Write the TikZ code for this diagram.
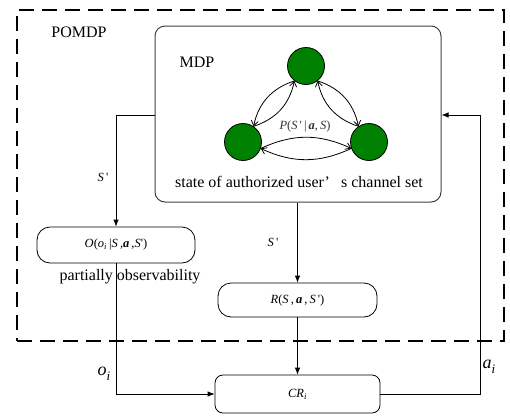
\documentclass[tikz,border=0pt]{standalone}
\usepackage{fontspec}
\setmainfont{Liberation Serif}
\usetikzlibrary{arrows.meta}
\definecolor{mdpgreen}{RGB}{0,128,0}
\newcommand{\prm}{\,\textquotesingle}

\begin{document}
\begin{tikzpicture}
            [every node/.style={inner sep=0pt},
             state/.style={circle, minimum size=37pt, fill=mdpgreen, line width=0.8pt, draw=black},
             block/.style={rectangle, rounded corners=13pt, line width=0.8pt, draw=black},
             flow/.style={line width=0.8pt, -{Latex[length=7pt,width=5.5pt]}},
             trans/.style={line width=0.8pt, -{Straight Barb[length=5pt,width=7pt]}},
             bigtext/.style={font=\fontsize{16pt}{19pt}\selectfont},
             smalltext/.style={font=\fontsize{12.5pt}{15pt}\selectfont}]
                \useasboundingbox (0pt, 0pt) rectangle (510pt, -418pt);
                % outer partially observable part
                \node (pomdp) [rectangle, minimum width=487pt, minimum height=331pt, line width=2.2pt, dash pattern=on 15pt off 8pt, draw=black] at (260.5pt, -175.5pt) {};
                \node (pomdplabel) [bigtext] at (79pt, -32pt) {POMDP};
                % inner MDP with its three states
                \node (mdp) [rectangle, rounded corners=10pt, minimum width=286pt, minimum height=176pt, line width=1pt, draw=black!75] at (298pt, -114pt) {};
                \node (mdplabel) [bigtext] at (197pt, -62pt) {MDP};
                \node (s1) [state] at (306pt, -66pt) {};
                \node (s2) [state] at (243pt, -142pt) {};
                \node (s3) [state] at (369pt, -142pt) {};
                \draw [trans] (s1.232) to [bend right=30] (s2.56);
                \draw [trans] (s2.56) to [bend right=30] (s1.232);
                \draw [trans] (s1.308) to [bend left=30] (s3.124);
                \draw [trans] (s3.124) to [bend left=30] (s1.308);
                \draw [trans] (s2.-20) to [bend left=25] (s3.200);
                \draw [trans] (s3.200) to [bend left=25] (s2.-20);
                \node (plabel) [smalltext, text=black!80] at (305pt, -127pt) {\textit{P}(\textit{S}\prm\,|\,\textbf{\textit{a}},\,\textit{S})};
                \node (mdptext) [bigtext] at (299pt, -182pt) {state of authorized user’\hspace{0.7em}s channel set};
                % observation, reward and the agent
                \node (obs) [block, minimum width=158pt, minimum height=36pt, smalltext] at (116pt, -245pt) {\textit{O}(\textit{o}\textsubscript{\textit{i}}\,|\textit{S}\,,\textbf{\textit{a}}\,,\textit{S}\textquotesingle)};
                \node (obstext) [bigtext] at (130pt, -277pt) {partially observability};
                \node (rew) [block, minimum width=159pt, minimum height=34pt, smalltext] at (297.5pt, -300pt) {\textit{R}(\textit{S}\,,\,\textbf{\textit{a}}\,,\,\textit{S}\prm)};
                \node (cr) [block, rounded corners=8pt, minimum width=165pt, minimum height=38pt, smalltext] at (297.5pt, -394pt) {\raisebox{-6pt}{\textit{CR}\textsubscript{\textit{i}}}};
                \coordinate (left) at (116pt, -115pt);
                \coordinate (right) at (480pt, -115pt);
                \draw [flow] (left -| mdp.west) -- (left) -- (obs.north);
                \draw [flow] (obs.south) -- (obs.south |- cr.west) -- (cr.west);
                \draw [flow] (mdp.south -| rew.north) -- (rew.north);
                \draw [flow] (rew.south) -- (cr.north);
                \draw [flow] (cr.east) -- (cr.east -| right) -- (right) -- (right -| mdp.east);
                \node (slabel1) [smalltext] at (103pt, -177pt) {\textit{S}\prm};
                \node (slabel2) [smalltext] at (273pt, -242pt) {\textit{S}\prm};
                \node (olabel) [font=\fontsize{18pt}{21pt}\selectfont] at (104pt, -374pt) {\textit{o}\raisebox{-5pt}{\fontsize{13pt}{15pt}\selectfont\textit{i}}};
                \node (alabel) [font=\fontsize{18pt}{21pt}\selectfont] at (489pt, -367pt) {\textit{a}\raisebox{-5pt}{\fontsize{13pt}{15pt}\selectfont\textit{i}}};
            \end{tikzpicture}
\end{document}
